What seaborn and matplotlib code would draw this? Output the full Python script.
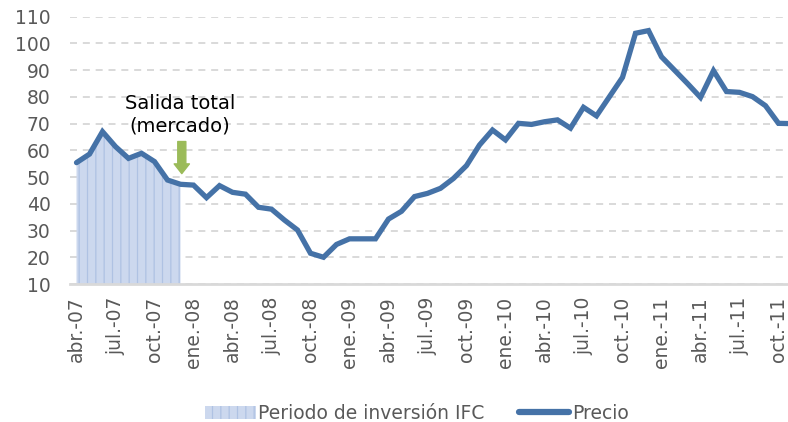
import numpy as np
import pandas as pd
import matplotlib
matplotlib.use("Agg")
import matplotlib.pyplot as plt
import seaborn as sns
from matplotlib.patches import Patch
from matplotlib.lines import Line2D

# monthly price, abr-07 .. nov-11
meses = ["abr.-07", "may.-07", "jun.-07", "jul.-07", "ago.-07", "sep.-07", "oct.-07", "nov.-07", "dic.-07",
         "ene.-08", "feb.-08", "mar.-08", "abr.-08", "may.-08", "jun.-08", "jul.-08", "ago.-08", "sep.-08",
         "oct.-08", "nov.-08", "dic.-08", "ene.-09", "feb.-09", "mar.-09", "abr.-09", "may.-09", "jun.-09",
         "jul.-09", "ago.-09", "sep.-09", "oct.-09", "nov.-09", "dic.-09", "ene.-10", "feb.-10", "mar.-10",
         "abr.-10", "may.-10", "jun.-10", "jul.-10", "ago.-10", "sep.-10", "oct.-10", "nov.-10", "dic.-10",
         "ene.-11", "feb.-11", "mar.-11", "abr.-11", "may.-11", "jun.-11", "jul.-11", "ago.-11", "sep.-11",
         "oct.-11", "nov.-11"]
precio = [55.4, 58.6, 67.0, 61.4, 57.0, 58.9, 55.8, 48.9, 47.3,
          47.0, 42.3, 46.8, 44.3, 43.6, 38.7, 38.0, 33.9, 30.2,
          21.5, 20.0, 24.8, 26.9, 26.9, 26.9, 34.3, 37.2, 42.7,
          43.9, 45.8, 49.5, 54.3, 62.0, 67.6, 63.9, 70.1, 69.7,
          70.7, 71.4, 68.3, 76.1, 72.9, 80.1, 87.3, 103.8, 104.8,
          95.0, 90.0, 85.0, 79.8, 89.8, 82.0, 81.7, 80.1, 76.7,
          70.1, 70.0]
# months covered by the IFC investment period (abr-07 .. dic-07)
periodo_ifc = meses[:9]

df = pd.DataFrame({"mes": meses, "precio": precio})
df["pos"] = np.arange(len(df))

sns.set_style("white")
plt.rcParams["font.family"] = ["DejaVu Sans"]
plt.rcParams["hatch.linewidth"] = 0.9

line_color = "#4572A7"
fill_color = "#CCD8EE"
hatch_color = "#AFC2E3"
grey = "#595959"

fig = plt.figure(figsize=(7.88, 4.22), dpi=100)
ax = fig.add_axes([70 / 788, 1 - 284 / 422, 718 / 788, (284 - 16.7) / 422])

# shaded investment period
n_ifc = len(periodo_ifc)
ax.fill_between(df["pos"][:n_ifc], 10, df["precio"][:n_ifc], facecolor=fill_color,
                edgecolor=hatch_color, hatch="||", linewidth=0, zorder=1)

sns.lineplot(data=df, x="pos", y="precio", color=line_color, linewidth=3.8, ax=ax,
             zorder=3, solid_joinstyle="miter")

ax.set_xlim(-0.5, (788 - 76.5) / 13)
ax.set_ylim(10, 110)
ax.set_yticks(np.arange(10, 111, 10))
ax.grid(axis="y", color="#D9D9D9", linewidth=1.4, linestyle=(0, (3.6, 3.0)))
ax.set_axisbelow(True)

# ticks between categories, labels on every third month
ax.set_xticks(np.arange(-0.5, len(df), 3))
ax.set_xticklabels([])
ax.set_xticks(np.arange(0, len(df), 3), minor=True)
ax.set_xticklabels(meses[::3], minor=True, rotation=90, fontsize=13.5, color=grey)
ax.tick_params(axis="x", which="major", length=5, width=1.5, color="#D9D9D9", direction="out")
ax.tick_params(axis="x", which="minor", length=0, pad=9)
ax.tick_params(axis="y", length=0, labelsize=13.5, labelcolor=grey, pad=14)
ax.set_xlabel("")
ax.set_ylabel("")

for s in ["top", "right", "left"]:
    ax.spines[s].set_visible(False)
ax.spines["bottom"].set_color("#D9D9D9")
ax.spines["bottom"].set_linewidth(2)

# annotation
ax.text(7.95, 73.3, "Salida total\n(mercado)", ha="center", va="center", fontsize=14,
        color="black", linespacing=1.25)
ax.annotate("", xy=(8.1, 51.3), xytext=(8.1, 63.3),
            arrowprops=dict(width=5.8, headwidth=11, headlength=7, color="#9BBB59", shrink=0))

handles = [Patch(facecolor=fill_color, edgecolor=hatch_color, hatch="||", linewidth=0),
           Line2D([0], [0], color=line_color, linewidth=4.5, solid_capstyle="round")]
fig.legend(handles, ["Periodo de inversión IFC", "Precio"], loc="lower center",
           bbox_to_anchor=(0.529, -0.042), ncol=2, frameon=False, fontsize=13.5,
           handlelength=2.7, handletextpad=0.15, columnspacing=1.8, labelcolor=grey)

fig.savefig("out.png", dpi=100)
